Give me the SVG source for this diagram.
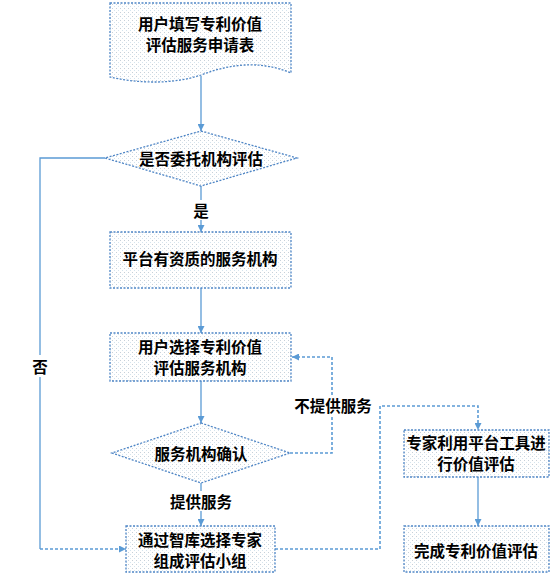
<svg xmlns="http://www.w3.org/2000/svg" width="555" height="575" viewBox="0 0 555 575">
<style>
.shape{fill:url(#dots);stroke:#4F86C6;stroke-width:1.3;stroke-dasharray:2 1.5}
.t{font-family:"Noto Sans CJK SC","Liberation Sans",sans-serif;font-size:15.5px;font-weight:bold;fill:#000;text-anchor:middle;dominant-baseline:central}
.solid{fill:none;stroke:#5B9BD5;stroke-width:1.3}
.dash{fill:none;stroke:#5B9BD5;stroke-width:1.6;stroke-dasharray:3 2}
.lbl{fill:#fff}
</style>
<defs>
<pattern id="dots" width="4" height="4" patternUnits="userSpaceOnUse">
<rect width="4" height="4" fill="#fff"/>
<rect x="0" y="0" width="1" height="1" fill="#c8d0d8"/>
<rect x="2" y="2" width="1" height="1" fill="#d4e4ee"/>
</pattern>
<marker id="arr" viewBox="0 0 10 10" refX="10" refY="5" markerWidth="7" markerHeight="7" markerUnits="userSpaceOnUse" orient="auto">
<path d="M0,0 L10,5 L0,10 Z" fill="#5B9BD5"/>
</marker>
</defs>
<g id="connectors">
<path class="solid" d="M201,76 V131" marker-end="url(#arr)"/>
<path class="solid" d="M201,186 V232" marker-end="url(#arr)"/>
<path class="solid" d="M201,288 V333" marker-end="url(#arr)"/>
<path class="solid" d="M201,381 V423" marker-end="url(#arr)"/>
<path class="solid" d="M201,483 V526" marker-end="url(#arr)"/>
<path class="dash" d="M290,453 H332 V357 H292" marker-end="url(#arr)"/>
<path class="dash" d="M275,549 H380 V406 H478 V430" marker-end="url(#arr)"/>
<path class="solid" d="M478,477 V526" marker-end="url(#arr)"/>
<path class="solid" d="M105,158 H40 V549"/>
<path class="dash" d="M40,549 H126" marker-end="url(#arr)"/>
<rect class="lbl" x="190" y="200" width="22" height="20"/>
<text class="t" x="201" y="210">是</text>
<rect class="lbl" x="160" y="491" width="82" height="20"/>
<text class="t" x="201" y="501">提供服务</text>
<rect class="lbl" x="293" y="395" width="80" height="21"/>
<text class="t" x="333" y="405">不提供服务</text>
<rect class="lbl" x="30" y="355" width="20" height="22"/>
<text class="t" x="40" y="366">否</text>
</g>
<g id="n1">
<path class="shape" d="M110,3 H291 V73 C260,60 230,64 201,75 C175,84 140,84 110,77 Z"/>
<text class="t" x="200" y="23">用户填写专利价值</text>
<text class="t" x="200" y="44">评估服务申请表</text>
</g>
<g id="n2">
<path class="shape" d="M201,131 L297,158 L201,186 L105,158 Z"/>
<text class="t" x="201" y="158">是否委托机构评估</text>
</g>
<g id="n3">
<rect class="shape" x="110" y="232" width="181" height="56"/>
<text class="t" x="200" y="258">平台有资质的服务机构</text>
</g>
<g id="n4">
<rect class="shape" x="110" y="333" width="181" height="48"/>
<text class="t" x="200" y="346">用户选择专利价值</text>
<text class="t" x="200" y="367">评估服务机构</text>
</g>
<g id="n5">
<path class="shape" d="M201,423 L290,453 L201,483 L112,453 Z"/>
<text class="t" x="201" y="453">服务机构确认</text>
</g>
<g id="n6">
<rect class="shape" x="126" y="526" width="149" height="46"/>
<text class="t" x="200" y="539">通过智库选择专家</text>
<text class="t" x="200" y="560">组成评估小组</text>
</g>
<g id="n7">
<rect class="shape" x="404" y="430" width="145" height="47"/>
<text class="t" x="476" y="442">专家利用平台工具进</text>
<text class="t" x="476" y="463">行价值评估</text>
</g>
<g id="n8">
<rect class="shape" x="404" y="526" width="145" height="46"/>
<text class="t" x="476" y="550">完成专利价值评估</text>
</g>
</svg>
